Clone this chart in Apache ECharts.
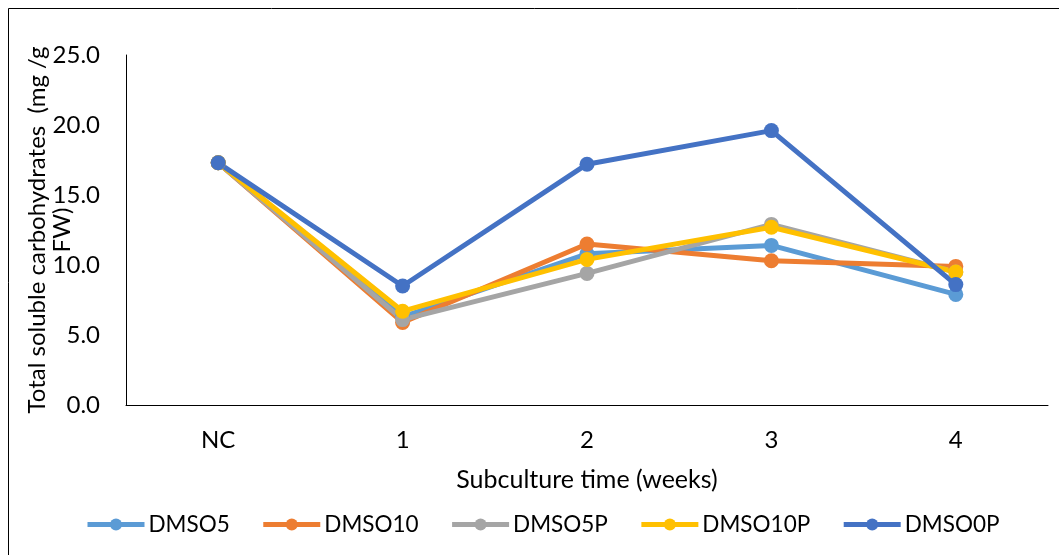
<!DOCTYPE html>
<html>
<head>
<meta charset="utf-8">
<script src="https://cdn.jsdelivr.net/npm/echarts@6/dist/echarts.min.js"></script>
<style>
  html, body { margin: 0; padding: 0; background: #fff; }
  #chart { width: 1059px; height: 555px; }
</style>
</head>
<body>
<div id="chart"></div>
<script>
// Subculture time categories
const categories = ['NC', '1', '2', '3', '4'];

// Total soluble carbohydrates (mg/g FW) per treatment
const dmso5   = [17.3, 6.3, 10.8, 11.4, 7.9];
const dmso10  = [17.3, 5.9, 11.5, 10.3, 9.9];
const dmso5p  = [17.3, 6.1, 9.4, 12.9, 9.5];
const dmso10p = [17.3, 6.7, 10.4, 12.7, 9.5];
const dmso0p  = [17.3, 8.5, 17.2, 19.6, 8.6];

const seriesNames = ['DMSO5', 'DMSO10', 'DMSO5P', 'DMSO10P', 'DMSO0P'];
const seriesData = [dmso5, dmso10, dmso5p, dmso10p, dmso0p];
const seriesColors = ['#5B9BD5', '#ED7D31', '#A5A5A5', '#FFC000', '#4472C4'];

const FONT = 'Lato';
const FS = 24;

const chart = echarts.init(document.getElementById('chart'), null, { renderer: 'canvas' });

chart.setOption({
  animation: false,
  textStyle: { fontFamily: FONT, color: '#000' },
  graphic: [{
    type: 'rect',
    shape: { x: 8.5, y: 8.5, width: 1060, height: 560 },
    style: { fill: 'none', stroke: '#000', lineWidth: 1 }
  }],
  grid: { left: 126, right: 11, top: 55, bottom: 150, outerBoundsMode: 'none' },
  legend: {
    top: 508,
    left: 80,
    itemWidth: 57,
    itemHeight: 15,
    itemGap: 31,
    lineStyle: { width: 5 },
    textStyle: { fontFamily: FONT, fontSize: 22.5, color: '#000', padding: [0, 0, 0, -1] },
    data: seriesNames
  },
  xAxis: {
    type: 'category',
    data: categories,
    boundaryGap: true,
    name: 'Subculture time (weeks)',
    nameLocation: 'middle',
    nameGap: 62,
    nameMoveOverlap: false,
    nameTextStyle: { fontFamily: FONT, fontSize: 25, color: '#000' },
    axisLine: { lineStyle: { color: '#000', width: 1 } },
    axisTick: { show: false },
    axisLabel: { fontFamily: FONT, fontSize: FS, color: '#000', margin: 23 }
  },
  yAxis: {
    type: 'value',
    min: 0,
    max: 25,
    interval: 5,
    name: 'Total soluble carbohydrates  (mg /g\nFW)',
    nameLocation: 'middle',
    nameRotate: 90,
    nameGap: 51,
    nameMoveOverlap: false,
    nameTextStyle: { fontFamily: FONT, fontSize: FS, color: '#000', lineHeight: 25 },
    axisLine: { show: true, lineStyle: { color: '#000', width: 1 } },
    axisTick: { show: false },
    splitLine: { show: false },
    axisLabel: {
      fontFamily: FONT, fontSize: FS, color: '#000', margin: 26,
      formatter: v => v.toFixed(1)
    }
  },
  series: seriesNames.map((name, i) => ({
    name,
    type: 'line',
    data: seriesData[i],
    symbol: 'circle',
    symbolSize: 15,
    lineStyle: { width: 5, color: seriesColors[i] },
    itemStyle: { color: seriesColors[i] }
  }))
});
</script>
</body>
</html>
